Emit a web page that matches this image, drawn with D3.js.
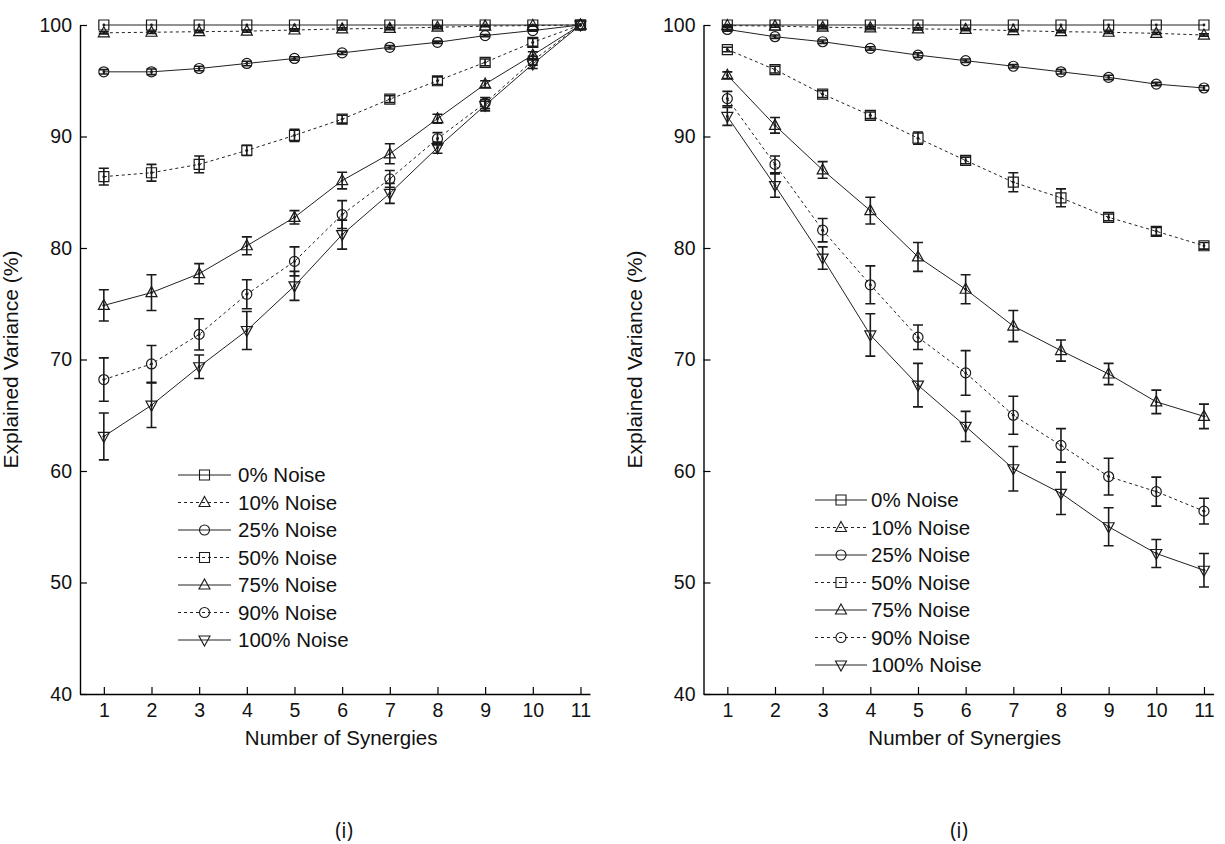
<!DOCTYPE html>
<html>
<head>
<meta charset="utf-8">
<script src="https://cdn.jsdelivr.net/npm/d3@7/dist/d3.min.js"></script>
<style>
  html, body { margin: 0; padding: 0; background: #fff; }
  svg { display: block; }
  text { font-family: "Liberation Sans", Arial, sans-serif; fill: #111; }
</style>
</head>
<body>
<svg id="chart" width="1225" height="844"></svg>
<script>
// Number of synergies extracted (x axis)
const synergies = [1, 2, 3, 4, 5, 6, 7, 8, 9, 10, 11];
const noiseLabels = ["0% Noise", "10% Noise", "25% Noise", "50% Noise", "75% Noise", "90% Noise", "100% Noise"];
const yTicks = [40, 50, 60, 70, 80, 90, 100];

// Panel A: explained variance (%) — mean per synergy count
const leftMean0   = [100, 100, 100, 100, 100, 100, 100, 100, 100, 100, 100];
const leftMean10  = [99.3, 99.35, 99.4, 99.45, 99.55, 99.65, 99.7, 99.8, 99.9, 99.95, 100];
const leftMean25  = [95.8, 95.8, 96.1, 96.55, 97.0, 97.5, 98.0, 98.45, 99.05, 99.5, 100];
const leftMean50  = [86.4, 86.75, 87.5, 88.75, 90.1, 91.55, 93.35, 95.0, 96.65, 98.45, 100];
const leftMean75  = [74.85, 76.0, 77.7, 80.2, 82.75, 86.05, 88.45, 91.6, 94.7, 97.3, 100];
const leftMean90  = [68.2, 69.6, 72.25, 75.85, 78.8, 83.0, 86.2, 89.8, 93.0, 96.8, 100];
const leftMean100 = [63.1, 65.9, 69.35, 72.6, 76.6, 81.2, 84.9, 89.0, 92.8, 96.5, 100];
// Panel A: standard deviation
const leftSd0   = [0, 0, 0, 0, 0, 0, 0, 0, 0, 0, 0];
const leftSd10  = [0.1, 0.1, 0.1, 0.1, 0.1, 0.1, 0.1, 0.1, 0.05, 0.05, 0];
const leftSd25  = [0.2, 0.25, 0.2, 0.2, 0.15, 0.15, 0.15, 0.1, 0.1, 0.05, 0];
const leftSd50  = [0.75, 0.75, 0.75, 0.45, 0.55, 0.35, 0.3, 0.35, 0.3, 0.35, 0];
const leftSd75  = [1.4, 1.6, 0.9, 0.8, 0.6, 0.75, 0.9, 0.4, 0.3, 0.3, 0];
const leftSd90  = [1.95, 1.65, 1.4, 1.3, 1.3, 1.25, 0.75, 0.55, 0.5, 0.4, 0];
const leftSd100 = [2.1, 2.0, 1.05, 1.7, 1.3, 1.3, 0.9, 0.5, 0.5, 0.4, 0];

// Panel B: explained variance (%) — mean per synergy count
const rightMean0   = [100, 100, 100, 100, 100, 100, 100, 100, 100, 100, 100];
const rightMean10  = [99.95, 99.9, 99.8, 99.75, 99.65, 99.6, 99.5, 99.4, 99.35, 99.25, 99.1];
const rightMean25  = [99.6, 98.95, 98.5, 97.9, 97.3, 96.8, 96.3, 95.8, 95.3, 94.7, 94.35];
const rightMean50  = [97.8, 96.0, 93.8, 91.9, 89.85, 87.85, 85.9, 84.5, 82.75, 81.5, 80.2];
const rightMean75  = [95.5, 91.0, 87.0, 83.35, 79.2, 76.3, 73.0, 70.8, 68.7, 66.2, 64.9];
const rightMean90  = [93.4, 87.5, 81.6, 76.7, 72.0, 68.8, 65.0, 62.3, 59.5, 58.15, 56.4];
const rightMean100 = [91.8, 85.6, 79.1, 72.2, 67.7, 64.0, 60.2, 58.0, 55.0, 52.6, 51.1];
// Panel B: standard deviation
const rightSd0   = [0, 0, 0, 0, 0, 0, 0, 0, 0, 0, 0];
const rightSd10  = [0.05, 0.1, 0.1, 0.1, 0.1, 0.1, 0.1, 0.1, 0.1, 0.1, 0.1];
const rightSd25  = [0.15, 0.15, 0.15, 0.15, 0.2, 0.15, 0.15, 0.2, 0.2, 0.15, 0.2];
const rightSd50  = [0.2, 0.3, 0.3, 0.3, 0.55, 0.3, 0.85, 0.8, 0.3, 0.35, 0.3];
const rightSd75  = [0.3, 0.7, 0.75, 1.2, 1.3, 1.3, 1.4, 0.95, 0.95, 1.05, 1.1];
const rightSd90  = [0.65, 0.75, 1.05, 1.7, 1.1, 2.0, 1.7, 1.5, 1.65, 1.3, 1.15];
const rightSd100 = [0.8, 1.05, 1.0, 1.9, 1.95, 1.35, 2.0, 1.9, 1.7, 1.25, 1.5];

// Per-series drawing style: marker shape and line dash
const markerShapes = ["square", "triUp", "circle", "square", "triUp", "circle", "triDown"];
const dashed = [false, true, false, true, false, true, false];

const svg = d3.select("#chart");
const ink = "#1a1a1a";

function markerPath(shape) {
  switch (shape) {
    case "square": return "M-5,-5H5V5H-5Z";
    case "circle": return "M5,0A5,5 0 1,1 -5,0A5,5 0 1,1 5,0Z";
    case "triUp": return "M0,-6L5.5,4H-5.5Z";
    case "triDown": return "M0,6L5.5,-4H-5.5Z";
  }
}

function drawPanel(ox, means, sds, legendLayout, caption) {
  const x = d3.scaleLinear().domain([0.5, 11.2]).range([ox, ox + 510]);
  const y = d3.scaleLinear().domain([40, 100]).range([694, 25]);
  const g = svg.append("g");

  // axes with inward ticks
  const yAxis = d3.axisLeft(y).tickValues(yTicks).tickSizeInner(-7).tickSizeOuter(0).tickPadding(8);
  const xAxis = d3.axisBottom(x).tickValues(synergies).tickSizeInner(-7).tickSizeOuter(0).tickPadding(9);
  const ya = g.append("g").attr("transform", `translate(${ox},0)`).call(yAxis);
  const xa = g.append("g").attr("transform", `translate(0,694)`).call(xAxis);
  [ya, xa].forEach(a => {
    a.select(".domain").attr("stroke", "#000").attr("stroke-width", 1.4);
    a.selectAll(".tick line").attr("stroke", "#000").attr("stroke-width", 1.2);
    a.selectAll(".tick text").style("font-size", "19.5px").attr("fill", "#111")
      .style("font-family", '"Liberation Sans", Arial, sans-serif');
  });

  const line = d3.line().x((d, i) => x(synergies[i])).y(d => y(d));

  means.forEach((m, s) => {
    const sd = sds[s];
    // connecting line
    g.append("path")
      .attr("d", line(m))
      .attr("fill", "none")
      .attr("stroke", "#222")
      .attr("stroke-width", 1)
      .attr("stroke-dasharray", dashed[s] ? "3,3" : null);
    // error bars
    g.append("g").selectAll("path")
      .data(m.map((v, i) => ({ v, e: sd[i], xi: synergies[i] })).filter(d => d.e > 0))
      .join("path")
      .attr("d", d => {
        const cx = x(d.xi), y1 = y(d.v + d.e), y2 = y(d.v - d.e);
        return `M${cx},${y1}V${y2}M${cx - 5},${y1}H${cx + 5}M${cx - 5},${y2}H${cx + 5}`;
      })
      .attr("fill", "none")
      .attr("stroke", ink)
      .attr("stroke-width", 1.6);
    // markers
    g.append("g").selectAll("path")
      .data(m)
      .join("path")
      .attr("transform", (d, i) => `translate(${x(synergies[i])},${y(d)})`)
      .attr("d", markerPath(markerShapes[s]))
      .attr("fill", "none")
      .attr("stroke", ink)
      .attr("stroke-width", 1.2);
    // centre dots
    g.append("g").selectAll("circle")
      .data(m)
      .join("circle")
      .attr("cx", (d, i) => x(synergies[i]))
      .attr("cy", d => y(d))
      .attr("r", 1.4)
      .attr("fill", ink);
  });

  // axis titles
  g.append("text")
    .attr("transform", `translate(${ox - 62},${(25 + 694) / 2}) rotate(-90)`)
    .attr("text-anchor", "middle")
    .style("font-size", "21px")
    .text("Explained Variance (%)");
  g.append("text")
    .attr("x", x(6) - 1).attr("y", 745)
    .attr("text-anchor", "middle")
    .style("font-size", "20.5px")
    .text("Number of Synergies");

  // legend
  const lg = g.append("g");
  noiseLabels.forEach((lab, s) => {
    const cy = legendLayout.y0 + s * 27.5;
    lg.append("line")
      .attr("x1", legendLayout.x1).attr("x2", legendLayout.x2)
      .attr("y1", cy).attr("y2", cy)
      .attr("stroke", "#222").attr("stroke-width", 1)
      .attr("stroke-dasharray", dashed[s] ? "3,3" : null);
    lg.append("path")
      .attr("transform", `translate(${(legendLayout.x1 + legendLayout.x2) / 2},${cy})`)
      .attr("d", markerPath(markerShapes[s]))
      .attr("fill", "none").attr("stroke", ink).attr("stroke-width", 1.1);
    lg.append("text")
      .attr("x", legendLayout.tx).attr("y", cy + 7)
      .style("font-size", "20.5px")
      .text(lab);
  });

  // panel caption
  g.append("text")
    .attr("x", caption).attr("y", 838)
    .attr("text-anchor", "middle")
    .style("font-size", "21px")
    .style("font-family", '"Open Sans", "Noto Sans", sans-serif')
    .text("(i)");
}

drawPanel(80,
  [leftMean0, leftMean10, leftMean25, leftMean50, leftMean75, leftMean90, leftMean100],
  [leftSd0, leftSd10, leftSd25, leftSd50, leftSd75, leftSd90, leftSd100],
  { x1: 178, x2: 231, tx: 238, y0: 475 }, 344);

drawPanel(703.5,
  [rightMean0, rightMean10, rightMean25, rightMean50, rightMean75, rightMean90, rightMean100],
  [rightSd0, rightSd10, rightSd25, rightSd50, rightSd75, rightSd90, rightSd100],
  { x1: 815, x2: 867, tx: 871, y0: 500 }, 959);
</script>
</body>
</html>
